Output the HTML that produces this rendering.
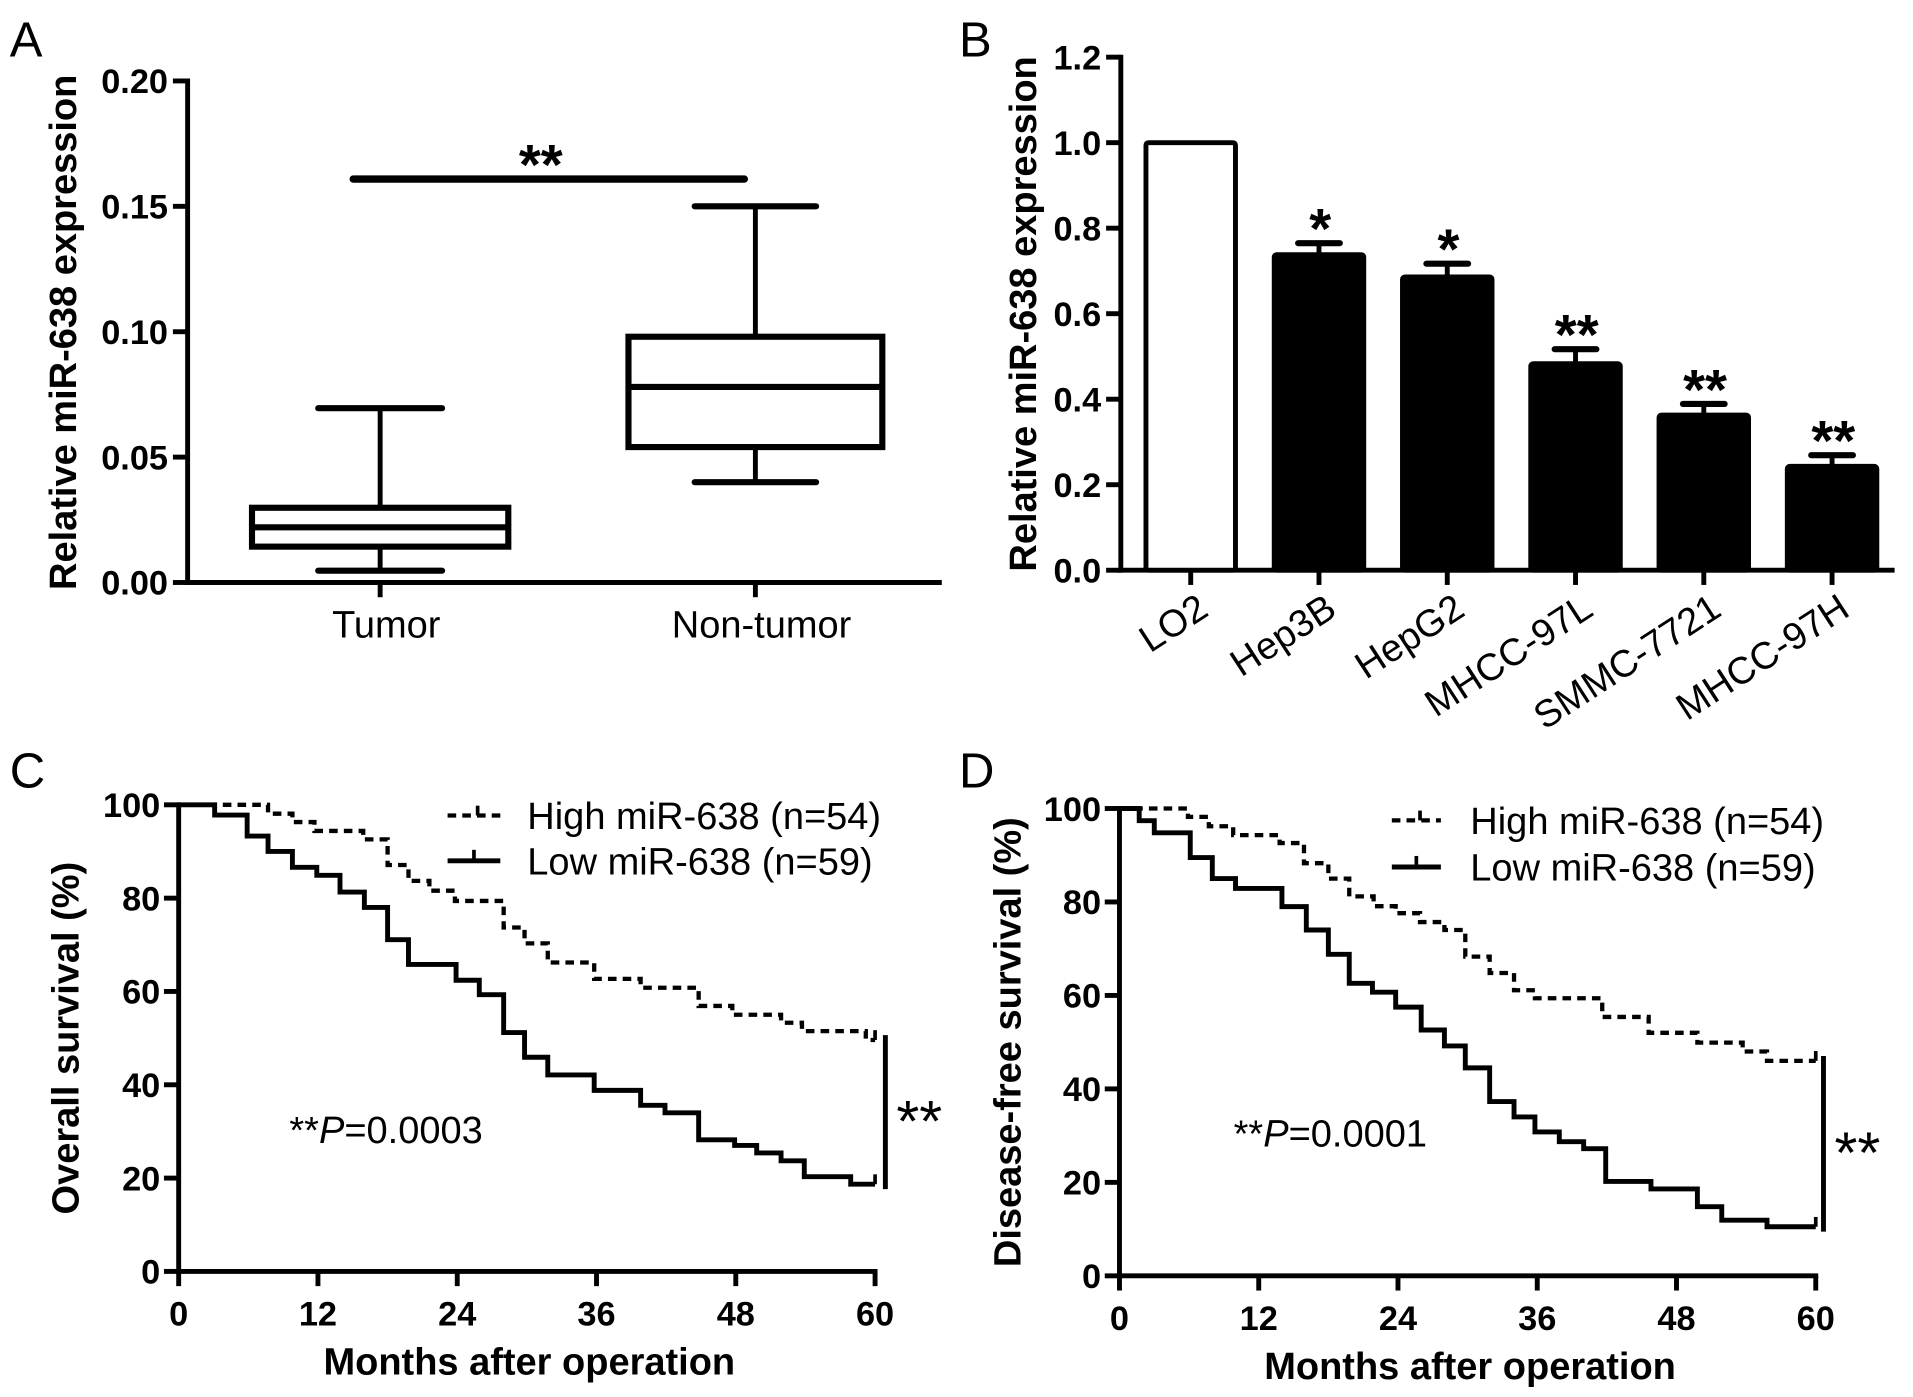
<!DOCTYPE html>
<html><head><meta charset="utf-8"><style>
html,body{margin:0;padding:0;background:#fff;}
svg{display:block;font-family:"Liberation Sans",Arial,sans-serif;}
.tk{font-size:28px;font-weight:bold;}
.ttl{font-size:31px;font-weight:bold;}
.lbl{font-size:31px;}
.pan{font-size:40px;}
.star{font-size:46px;font-weight:bold;}
.kstar{font-size:48px;}
</style></head><body>
<svg id="fig" width="1913" height="1397" viewBox="0 0 1560 1139.2" xmlns="http://www.w3.org/2000/svg"></svg>
<script>
// ---- Panel A data ----
const boxGroups = ["Tumor", "Non-tumor"];
const boxMin = [0.0047, 0.040];
const boxQ1 = [0.0143, 0.054];
const boxMed = [0.022, 0.078];
const boxQ3 = [0.0298, 0.098];
const boxMax = [0.0695, 0.150];
const aTicks = ["0.00", "0.05", "0.10", "0.15", "0.20"];
// ---- Panel B data ----
const cellLines = ["LO2", "Hep3B", "HepG2", "MHCC-97L", "SMMC-7721", "MHCC-97H"];
const barVals = [1.0, 0.738, 0.686, 0.483, 0.363, 0.243];
const barErr = [0, 0.027, 0.031, 0.034, 0.026, 0.026];
const barSig = ["", "*", "*", "**", "**", "**"];
const bTicks = ["0.0", "0.2", "0.4", "0.6", "0.8", "1.0", "1.2"];
// ---- Panel C data (months, survival %) ----
const cHighT = [0, 7.7, 9.8, 11.7, 15.9, 18, 19.8, 21.6, 23.8, 28, 29.8, 31.8, 35.8, 39.8, 44.8, 47.7, 51.9, 53.7, 59.2];
const cHighS = [100, 98.1, 96.3, 94.4, 92.6, 87.1, 83.7, 81.6, 79.4, 73.7, 70.3, 66.2, 62.7, 60.8, 56.9, 55, 53.3, 51.5, 49.6];
const cLowT = [0, 3.1, 5.9, 7.7, 9.8, 11.9, 13.9, 16, 18, 19.8, 23.9, 25.9, 28, 29.8, 31.8, 35.8, 39.8, 41.9, 44.8, 47.9, 49.8, 51.9, 53.9, 57.9];
const cLowS = [100, 97.8, 93.3, 90, 86.6, 84.9, 81.3, 78, 71.1, 65.8, 62.4, 59.3, 51.2, 45.9, 42.1, 38.8, 35.6, 34, 28.2, 27, 25.4, 23.7, 20.3, 18.7];
// ---- Panel D data ----
const dHighT = [0, 5.9, 7.7, 9.8, 13.8, 15.9, 18, 19.8, 21.9, 23.8, 25.9, 28, 29.8, 31.9, 34, 35.8, 41.6, 45.6, 49.8, 53.7, 55.8];
const dHighS = [100, 98.2, 96.2, 94.3, 92.6, 88.3, 85, 81.2, 79.1, 77.6, 75.7, 74, 68.3, 64.8, 61.1, 59.4, 55.4, 52, 49.9, 48, 46];
const dLowT = [0, 1.7, 3, 6.1, 8, 10, 14, 16.1, 18, 19.8, 21.8, 23.8, 26, 28, 29.8, 31.9, 34, 35.8, 37.9, 40, 41.9, 45.8, 49.8, 51.9, 55.8];
const dLowS = [100, 97.4, 94.8, 89.5, 85, 82.9, 79, 74, 68.8, 62.6, 60.7, 57.5, 52.6, 49.2, 44.5, 37.3, 34, 30.8, 28.7, 27.2, 20.2, 18.6, 14.8, 11.9, 10.5];
const kmXTicks = [0, 12, 24, 36, 48, 60];
const kmYTicks = [0, 20, 40, 60, 80, 100];

const svg = document.getElementById('fig');
const NS = "http://www.w3.org/2000/svg";
function el(tag, attrs, parent, txt) {
  const e = document.createElementNS(NS, tag);
  for (const k in attrs) e.setAttribute(k, attrs[k]);
  if (txt !== undefined) e.textContent = txt;
  (parent || svg).appendChild(e);
  return e;
}
function line(x1, y1, x2, y2, w, name, extra) {
  const l = el('line', Object.assign({x1, y1, x2, y2, stroke: '#000', 'stroke-width': w || 4}, extra || {}));
  
  
  return l;
}
function text(x, y, s, cls, name, extra) {
  const t = el('text', Object.assign({x, y, class: cls}, extra || {}), svg, s);
  
  
  return t;
}

// ================= Panel A =================
(function () {
  const x0 = 153, xEnd = 768, y0 = 475, yTop = 66;
  const ya = v => y0 - (v / 0.2) * (y0 - yTop);
  const xa = [310, 616];
  const halfW = [104.5, 103.5], capW = [50.5, 49.5];
  text(8, 46, "A", "pan", "panel-a-label");
  line(x0, yTop - 2, x0, y0 + 2, 4, "a-y-axis");
  line(x0 - 2, y0, xEnd, y0, 4, "a-x-axis");
  aTicks.forEach((t, i) => {
    const y = ya(+t);
    line(x0 - 12, y, x0, y, 4, "a-y-tick");
    text(x0 - 16, y + 10, t, "tk", "a-y-tick-label", {'text-anchor': 'end'});
  });
  text(0, 0, "Relative miR-638 expression", "ttl", "a-y-axis-title", {'text-anchor': 'middle', transform: 'translate(62,271) rotate(-90)'});
  boxGroups.forEach((g, i) => {
    const cx = xa[i];
    line(cx, y0, cx, y0 + 12, 4, "a-x-tick");
    text(cx + 5, 520, g, "lbl", "a-x-tick-label", {'text-anchor': 'middle'});
    line(cx, ya(boxMax[i]), cx, ya(boxQ3[i]), 4, "whisker-upper");
    line(cx, ya(boxQ1[i]), cx, ya(boxMin[i]), 4, "whisker-lower");
    line(cx - capW[i], ya(boxMax[i]), cx + capW[i], ya(boxMax[i]), 5, "whisker-cap-max", {'stroke-linecap': 'round'});
    line(cx - capW[i], ya(boxMin[i]), cx + capW[i], ya(boxMin[i]), 5, "whisker-cap-min", {'stroke-linecap': 'round'});
    const r = el('rect', {x: cx - halfW[i], y: ya(boxQ3[i]), width: 2 * halfW[i], height: ya(boxQ1[i]) - ya(boxQ3[i]), fill: '#fff', stroke: '#000', 'stroke-width': 5});
    
    
    line(cx - halfW[i], ya(boxMed[i]), cx + halfW[i], ya(boxMed[i]), 5, "box-median");
  });
  line(288, 146, 607, 146, 6, "significance-bar", {'stroke-linecap': 'round'});
  text(441, 150, "**", "star", "significance-stars", {'text-anchor': 'middle'});
})();

// ================= Panel B =================
(function () {
  const x0 = 914, xEnd = 1545, y0 = 465, yTop = 46.6;
  const yb = v => y0 - (v / 1.2) * (y0 - yTop);
  const step = 104.6, first = 971, bw = 73;
  text(782, 46, "B", "pan", "panel-b-label");
  line(x0, yTop - 2, x0, y0 + 2, 4, "b-y-axis");
  line(x0 - 2, y0, xEnd, y0, 4, "b-x-axis");
  bTicks.forEach(t => {
    const y = yb(+t);
    line(x0 - 12, y, x0, y, 4, "b-y-tick");
    text(x0 - 16, y + 10, t, "tk", "b-y-tick-label", {'text-anchor': 'end'});
  });
  text(0, 0, "Relative miR-638 expression", "ttl", "b-y-axis-title", {'text-anchor': 'middle', transform: 'translate(845,256) rotate(-90)'});
  cellLines.forEach((c, i) => {
    const cx = first + i * step;
    line(cx, y0, cx, y0 + 12, 4, "b-x-tick");
    text(0, 0, c, "lbl", "b-x-tick-label", {'text-anchor': 'end', transform: `translate(${cx + 16},${y0 + 36}) rotate(-33)`});
    if (barErr[i] > 0) {
      line(cx, yb(barVals[i]), cx, yb(barVals[i] + barErr[i]), 4, "error-bar");
      line(cx - 17, yb(barVals[i] + barErr[i]), cx + 17, yb(barVals[i] + barErr[i]), 5, "error-cap", {'stroke-linecap': 'round'});
    }
    const r = el('rect', {x: cx - bw / 2, y: yb(barVals[i]), width: bw, height: y0 - yb(barVals[i]), fill: i === 0 ? '#fff' : '#000', stroke: '#000', 'stroke-width': 4, rx: 2});
    
    
    if (barSig[i]) text(cx + 1, yb(barVals[i] + barErr[i]) + 4, barSig[i], "star", "bar-significance", {'text-anchor': 'middle'});
  });
})();

// ================= KM panels =================
function km(cfg) {
  const {x0, x60, y0, y100, hiT, hiS, loT, loS, label, lx, ly, title, titleX, pText, px, py, barX, legX, legL1, legL2, legY1, legY2} = cfg;
  const xs = m => x0 + (m / 60) * (x60 - x0);
  const ys = s => y0 - (s / 100) * (y0 - y100);
  text(lx, ly, label, "pan", "panel-" + label.toLowerCase() + "-label");
  line(x0, y100 - 2, x0, y0 + 2, 4, "km-y-axis");
  line(x0 - 2, y0, x60 + 2, y0, 4, "km-x-axis");
  kmYTicks.forEach(t => {
    line(x0 - 12, ys(t), x0, ys(t), 4, "km-y-tick");
    text(x0 - 15, ys(t) + 10, t, "tk", "km-y-tick-label", {'text-anchor': 'end'});
  });
  kmXTicks.forEach(t => {
    line(xs(t), y0, xs(t), y0 + 12, 4, "km-x-tick");
    text(xs(t), y0 + 44, t, "tk", "km-x-tick-label", {'text-anchor': 'middle'});
  });
  text((x0 + x60) / 2 + 2, y0 + 84, "Months after operation", "ttl", "km-x-axis-title", {'text-anchor': 'middle'});
  text(0, 0, title, "ttl", "km-y-axis-title", {'text-anchor': 'middle', transform: `translate(${titleX},${(y0 + y100) / 2}) rotate(-90)`});
  function stepPath(T, S) {
    let d = `M${xs(T[0])},${ys(S[0])}`;
    for (let i = 1; i < T.length; i++) d += ` H${xs(T[i])} V${ys(S[i])}`;
    d += ` H${xs(60)}`;
    return d;
  }
  const ph = el('path', {d: stepPath(hiT, hiS), fill: 'none', stroke: '#000', 'stroke-width': 3.5, 'stroke-dasharray': '7,5'});
  
  
  const pl = el('path', {d: stepPath(loT, loS), fill: 'none', stroke: '#000', 'stroke-width': 4});
  
  
  line(xs(60), ys(hiS[hiS.length - 1]) - 8, xs(60), ys(hiS[hiS.length - 1]), 3, "censor-tick");
  line(xs(60), ys(loS[loS.length - 1]) - 8, xs(60), ys(loS[loS.length - 1]), 3, "censor-tick");
  line(legL1, legY1, legL2, legY1, 3.5, "legend-high-line", {'stroke-dasharray': '7,5'});
  line((legL1 + legL2) / 2 + 3, legY1 - 8, (legL1 + legL2) / 2 + 3, legY1, 3, "legend-high-tick");
  line(legL1, legY2, legL2, legY2, 4, "legend-low-line");
  line((legL1 + legL2) / 2, legY2 - 9, (legL1 + legL2) / 2, legY2, 3, "legend-low-tick");
  text(legX, legY1 + 11, "High miR-638 (n=54)", "lbl", "legend-high-entry");
  text(legX, legY2 + 11, "Low miR-638 (n=59)", "lbl", "legend-low-entry");
  const pt = text(px, py, "", "lbl", "p-value-label");
  const s1 = el('tspan', {}, pt, "**");  
  const s2 = el('tspan', {'font-style': 'italic'}, pt, "P");  
  const s3 = el('tspan', {}, pt, "=" + pText);  
  line(barX, ys(hiS[hiS.length - 1]) - 4, barX, ys(loS[loS.length - 1]) + 4, 4, "km-significance-bar");
  text(barX + 9, (ys(hiS[hiS.length - 1]) + ys(loS[loS.length - 1])) / 2 + 24, "**", "kstar", "km-significance-stars");
}
km({x0: 145.7, x60: 713.6, y0: 1036.8, y100: 656.3, hiT: cHighT, hiS: cHighS, loT: cLowT, loS: cLowS,
  label: "C", lx: 8, ly: 642, title: "Overall survival (%)", titleX: 64, pText: "0.0003", px: 236, py: 932,
  barX: 722, legX: 430, legL1: 365, legL2: 408, legY1: 665, legY2: 702});
km({x0: 912.9, x60: 1480.7, y0: 1040.4, y100: 659.3, hiT: dHighT, hiS: dHighS, loT: dLowT, loS: dLowS,
  label: "D", lx: 782, ly: 642, title: "Disease-free survival (%)", titleX: 832, pText: "0.0001", px: 1006, py: 935,
  barX: 1487, legX: 1199, legL1: 1135, legL2: 1175, legY1: 669, legY2: 707});
</script>
</body></html>
